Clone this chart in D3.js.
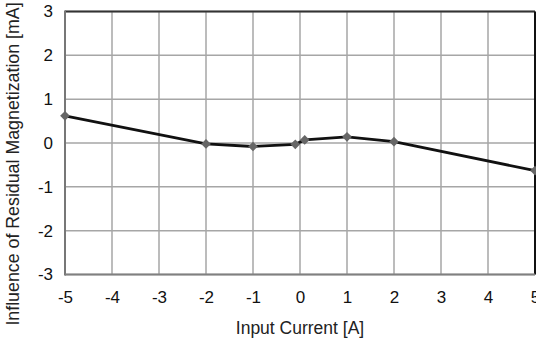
<!DOCTYPE html>
<html>
<head>
<meta charset="utf-8">
<script src="https://cdn.jsdelivr.net/npm/d3@7"></script>
<style>
  body { margin: 0; background: #fff; }
  text { font-family: "Liberation Sans", Arial, sans-serif; }
</style>
</head>
<body>
<div id="chart"></div>
<script>
// data
const current = [-5, -2, -1, -0.1, 0.1, 1, 2, 5];
const influence = [0.62, -0.02, -0.08, -0.03, 0.07, 0.14, 0.03, -0.63];
const xTicks = [-5, -4, -3, -2, -1, 0, 1, 2, 3, 4, 5];
const yTicks = [-3, -2, -1, 0, 1, 2, 3];

const W = 536, H = 345;
const margin = {top: 11.5, right: 1, bottom: 70.5, left: 65};
const width = W - margin.left - margin.right;
const height = H - margin.top - margin.bottom;

const svg = d3.select("#chart").append("svg")
  .attr("width", W).attr("height", H);
const g = svg.append("g")
  .attr("transform", `translate(${margin.left},${margin.top})`);

const x = d3.scaleLinear().domain([-5, 5]).range([0, width]);
const y = d3.scaleLinear().domain([-3, 3]).range([height, 0]);

// grid
g.append("g").selectAll("line").data(xTicks).join("line")
  .attr("x1", d => x(d)).attr("x2", d => x(d))
  .attr("y1", 0).attr("y2", height)
  .attr("stroke", "#a6a6a6").attr("stroke-width", 1.5);
g.append("g").selectAll("line").data(yTicks).join("line")
  .attr("y1", d => y(d)).attr("y2", d => y(d))
  .attr("x1", 0).attr("x2", width)
  .attr("stroke", "#a6a6a6").attr("stroke-width", 1.5);

// frame: top/right dark, left/bottom grey
g.append("line").attr("x1", 0).attr("x2", width).attr("y1", 0).attr("y2", 0)
  .attr("stroke", "#333").attr("stroke-width", 2);
g.append("line").attr("x1", width).attr("x2", width).attr("y1", 0).attr("y2", height)
  .attr("stroke", "#111").attr("stroke-width", 2);
g.append("line").attr("x1", 0).attr("x2", 0).attr("y1", -1).attr("y2", height + 1)
  .attr("stroke", "#777").attr("stroke-width", 2);
g.append("line").attr("x1", 0).attr("x2", width).attr("y1", height).attr("y2", height)
  .attr("stroke", "#808080").attr("stroke-width", 2);

// axes labels
const xAxis = g.append("g").attr("transform", `translate(0,${height})`)
  .call(d3.axisBottom(x).tickValues(xTicks).tickSize(0).tickPadding(16));
const yAxis = g.append("g")
  .call(d3.axisLeft(y).tickValues(yTicks).tickSize(0).tickPadding(12));
[xAxis, yAxis].forEach(a => {
  a.select(".domain").remove();
  a.selectAll("text").attr("font-size", 17).attr("fill", "#111")
    .style("font-family", "'Liberation Sans', Arial, sans-serif")
    .text(d => String(d)); // plain hyphen, not unicode minus
});

// line
const pts = current.map((c, i) => [c, influence[i]]);
g.append("path").datum(pts)
  .attr("fill", "none").attr("stroke", "#111").attr("stroke-width", 2.8)
  .attr("d", d3.line().x(d => x(d[0])).y(d => y(d[1])));

// diamond markers
g.append("g").selectAll("path").data(pts).join("path")
  .attr("transform", d => `translate(${x(d[0])},${y(d[1])})`)
  .attr("d", d3.symbol(d3.symbolDiamond2, 60))
  .attr("fill", "#666");

// titles
svg.append("text")
  .attr("x", margin.left + width / 2).attr("y", 334)
  .attr("text-anchor", "middle").attr("font-size", 17.5).attr("fill", "#222")
  .text("Input Current [A]");
svg.append("text")
  .attr("transform", "translate(19,164) rotate(-90)")
  .attr("text-anchor", "middle").attr("font-size", 17.8).attr("fill", "#222")
  .text("Influence of Residual Magnetization [mA]");
</script>
</body>
</html>
